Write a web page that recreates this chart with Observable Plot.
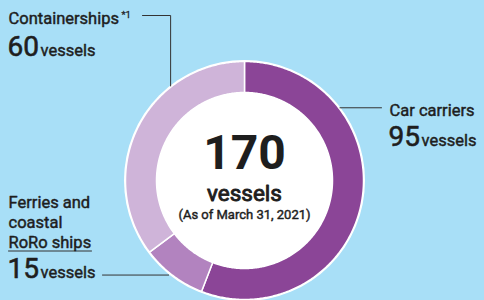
<!DOCTYPE html>
<html>
<head>
<meta charset="utf-8">
<script src="https://cdn.jsdelivr.net/npm/d3@7"></script>
<script src="https://cdn.jsdelivr.net/npm/@observablehq/plot@0.6"></script>
<style>
  html, body { margin: 0; padding: 0; background: #a8dff7; }
  #chart { width: 484px; height: 300px; box-shadow: inset 1px 0 0 #86bedb; }
  #chart svg { display: block; }
</style>
</head>
<body>
<div id="chart"></div>
<script>
// ---- data ----
const categories = ["Car carriers", "Ferries and coastal RoRo ships", "Containerships"];
const vessels = [95, 15, 60];
const totalLabel = "170";
const unitLabel = "vessels";
const asOfLabel = "(As of March 31, 2021)";
const colors = ["#8b4597", "#b283bf", "#cfb4d9"];

// ---- layout (pixels relative to donut centre, y up) ----
const W = 484, H = 300;
const CX = 244, CY = 180;
const R_OUT = 119, R_IN = 88;
const font = "Roboto, 'Noto Sans', sans-serif";
const ink = "#1e1e1e";

const pie = d3.pie().sort(null).value(d => d)(vessels);
const slices = [];
pie.forEach((p, i) => {
  const name = categories[i];
  const n = Math.max(2, Math.ceil((p.endAngle - p.startAngle) / 0.01));
  const pts = [];
  for (let k = 0; k <= n; k++) {
    const a = p.startAngle + (p.endAngle - p.startAngle) * k / n;
    pts.push({name, x: R_OUT * Math.sin(a), y: R_OUT * Math.cos(a)});
  }
  for (let k = n; k >= 0; k--) {
    const a = p.startAngle + (p.endAngle - p.startAngle) * k / n;
    pts.push({name, x: R_IN * Math.sin(a), y: R_IN * Math.cos(a)});
  }
  pts.push({...pts[0]});
  slices.push(...pts);
});

// pixel helpers for annotations
const px = v => v - CX;
const py = v => CY - v;
const ring = deg => {
  const a = deg * Math.PI / 180;
  return {x: (R_OUT + 1) * Math.sin(a), y: (R_OUT + 1) * Math.cos(a)};
};

// leader lines
const cPt = ring(322), kPt = ring(52.7), fPt = ring(218);
const leaders = [
  {g: "c", x: px(142), y: py(15)}, {g: "c", x: cPt.x, y: py(15)}, {g: "c", x: cPt.x, y: cPt.y},
  {g: "k", x: kPt.x, y: kPt.y}, {g: "k", x: px(381), y: kPt.y},
  {g: "f", x: px(102), y: fPt.y}, {g: "f", x: fPt.x - 2, y: fPt.y},
  {g: "u", x: px(8), y: py(250.5)}, {g: "u", x: px(91), y: py(250.5)}
];

const labels = [
  {t: "Containerships", x: 8, y: 23, s: 16.5, k: 0.45},
  {t: "*1", x: 121, y: 17, s: 9.5, k: 0.3},
  {t: String(vessels[2]), x: 7, y: 55, s: 28, k: 0.6},
  {t: unitLabel, x: 40, y: 55, s: 16.5, k: 0.45},
  {t: "Car carriers", x: 389, y: 115, s: 16.5, k: 0.45},
  {t: String(vessels[0]), x: 388, y: 145, s: 28, k: 0.6},
  {t: unitLabel, x: 421, y: 145, s: 16.5, k: 0.45},
  {t: "Ferries and", x: 8, y: 207, s: 16.5, k: 0.45},
  {t: "coastal", x: 8, y: 227, s: 16.5, k: 0.45},
  {t: "RoRo ships", x: 8, y: 247, s: 16.5, k: 0.45},
  {t: String(vessels[1]), x: 7, y: 277, s: 28, k: 0.6},
  {t: unitLabel, x: 40, y: 277, s: 16.5, k: 0.45}
];

const centre = [
  {t: totalLabel, y: 168, s: 48, w: 700, k: 0},
  {t: unitLabel, y: 200, s: 22.5, w: 400, k: 0.9},
  {t: asOfLabel, y: 218, s: 13, w: 400, k: 0.45}
];

const textMarks = (arr, anchor, center) => arr.map(d =>
  Plot.text([d], {
    x: center ? () => 0 : () => px(d.x),
    y: () => py(d.y),
    text: "t",
    textAnchor: anchor,
    lineAnchor: "bottom",
    fontSize: d.s,
    fontWeight: d.w || 400,
    fontFamily: font,
    fill: ink,
    stroke: d.k ? ink : "none",
    strokeWidth: d.k || 0,
    strokeOpacity: 1
  })
);

const chart = Plot.plot({
  width: W,
  height: H,
  margin: 0,
  style: {background: "#a8dff7", overflow: "visible"},
  x: {domain: [-CX, W - CX], axis: null},
  y: {domain: [CY - H, CY], axis: null},
  color: {domain: categories, range: colors},
  marks: [
    Plot.dot([0], {x: () => 0, y: () => 0, r: R_OUT + 1.5, fill: "white", stroke: "none"}),
    Plot.line(slices, {x: "x", y: "y", z: "name", fill: "name", stroke: "white", strokeWidth: 1.5, curve: "linear"}),
    Plot.dot([0], {x: () => 0, y: () => 0, r: R_IN, fill: "white", stroke: "none"}),
    Plot.line(leaders, {x: "x", y: "y", z: "g", stroke: "#333", strokeWidth: 1}),
    ...textMarks(labels, "start", false),
    ...textMarks(centre, "middle", true)
  ]
});
document.getElementById("chart").appendChild(chart);
</script>
</body>
</html>
